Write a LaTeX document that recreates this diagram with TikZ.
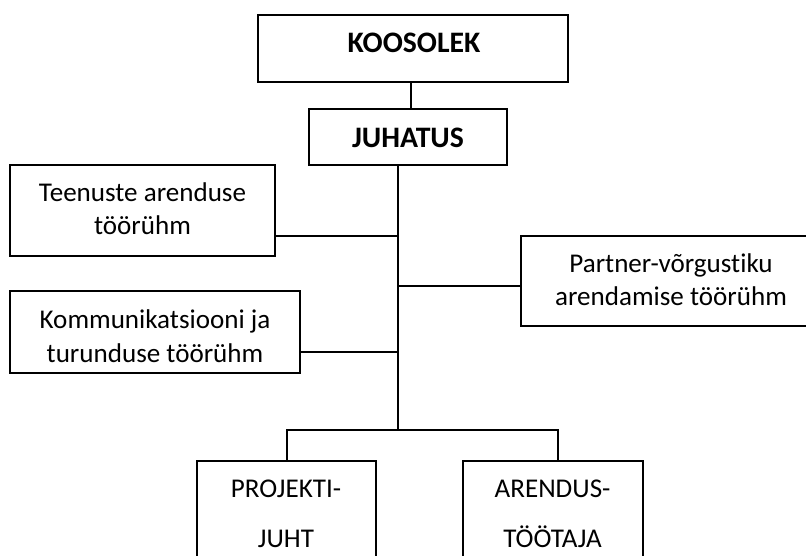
\documentclass[tikz,border=0pt]{standalone}
\usepackage{fontspec}
\setmainfont{Carlito}[Ligatures={NoCommon}]
\begin{document}
\begin{tikzpicture}[x=0.75pt,y=-0.75pt,
  box/.style={draw=black,line width=1.3pt,fill=white,inner sep=0pt},
  txt/.style={anchor=base,inner sep=0pt,font=\fontsize{20.3}{24}\selectfont},
  btxt/.style={anchor=base,inner sep=0pt,font=\fontsize{22.3}{27}\selectfont\bfseries},
  conn/.style={draw=black,line width=1.3pt}]
\useasboundingbox (0,0) rectangle (806,556);
\clip (0,0) rectangle (806,556);
\fill[white] (0,0) rectangle (806,556);
% boxes
\node[box,minimum width=232.5pt,minimum height=50.25pt] (koos) at (413,48.5) {};
\node[box,minimum width=148.5pt,minimum height=42pt] (juh) at (408,137) {};
\node[box,minimum width=198.75pt,minimum height=68.25pt] (teen) at (142.5,210.5) {};
\node[box,minimum width=217.5pt,minimum height=61.5pt] (komm) at (155,332) {};
\node[box,minimum width=231.75pt,minimum height=67.5pt] (part) at (675.5,281) {};
\node[box,minimum width=134.25pt,minimum height=104.25pt] (proj) at (286.5,530.5) {};
\node[box,minimum width=135pt,minimum height=104.25pt] (aren) at (553,530.5) {};
% texts
\node[btxt] (tk) at (414,53) {KOOSOLEK};
\node[btxt] (tj) at (408,148) {JUHATUS};
\node[txt] (tt1) at (142.5,201) {Teenuste arenduse};
\node[txt] (tt2) at (142.5,234) {töörühm};
\node[txt] (tc1) at (155,328) {Kommunikatsiooni ja};
\node[txt] (tc2) at (155,362) {turunduse töörühm};
\node[txt] (tp1) at (671,272) {Partner-võrgustiku};
\node[txt] (tp2) at (671,305) {arendamise töörühm};
\node[txt] (tr1) at (286,497) {PROJEKTI-};
\node[txt] (tr2) at (286,547) {JUHT};
\node[txt] (ta1) at (552.5,497) {ARENDUS-};
\node[txt] (ta2) at (552.5,547) {TÖÖTAJA};
% connector coordinates
\coordinate (kx) at (411,0);
\coordinate (fork) at (398,430);
\coordinate (tb) at (398,236);
\coordinate (pb) at (398,286);
\coordinate (cb) at (398,352);
\coordinate (lf) at (287,430);
\coordinate (rf) at (558,430);
% connectors
\draw[conn] (koos.south -| kx) -- (juh.north -| kx);
\draw[conn] (juh.south -| fork) -- (fork);
\draw[conn] (tb) -- (tb -| teen.east);
\draw[conn] (pb) -- (pb -| part.west);
\draw[conn] (cb) -- (cb -| komm.east);
\draw[conn] (proj.north -| lf) -- (lf) -- (rf) -- (aren.north -| rf);
\end{tikzpicture}
\end{document}
